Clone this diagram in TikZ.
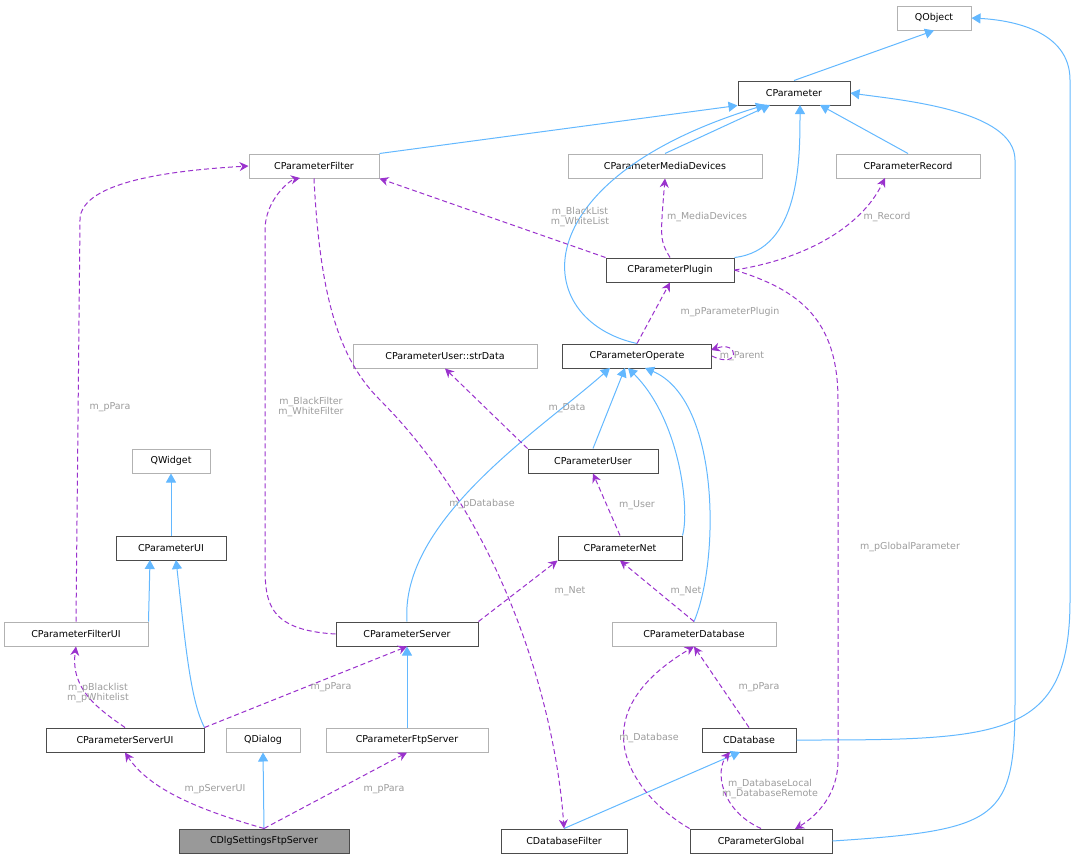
\documentclass[tikz,border=0pt]{standalone}
\usepackage{fontspec}
\setmainfont{DejaVu Sans}
\usetikzlibrary{arrows.meta}
\definecolor{inh}{HTML}{63B8FF}
\definecolor{use}{HTML}{9A32CD}
\definecolor{lbl}{HTML}{9C9C9C}
\begin{document}
\begin{tikzpicture}[x=1pt,y=-1pt,
    cls/.style={draw=black!70, fill=white, font=\fontsize{9.5}{11}\selectfont, minimum height=24pt, inner xsep=4pt, inner ysep=0pt, line width=1pt},
    ext/.style={cls, draw=black!30},
    inh/.style={draw=inh, line width=1pt, -{Triangle[length=9pt,width=10pt,fill=inh]}},
    use/.style={draw=use, line width=1pt, dash pattern=on 5pt off 3pt, -{Stealth[length=9pt,width=9pt,fill=use]}},
    lab/.style={text=lbl, font=\fontsize{9.5}{10}\selectfont, align=center, inner sep=0pt}]
      \useasboundingbox (0,0) rectangle (1074,860);

      % Classes
      \node[ext, minimum width=74pt] (qobj) at (934,18) {QObject};
      \node[cls, minimum width=112pt] (par) at (794,93) {CParameter};
      \node[ext, minimum width=130pt] (filt) at (314,166) {CParameterFilter};
      \node[ext, minimum width=194pt] (media) at (665,166) {CParameterMediaDevices};
      \node[ext, minimum width=144pt] (rec) at (908,166) {CParameterRecord};
      \node[cls, minimum width=128pt] (plug) at (670,270) {CParameterPlugin};
      \node[ext, minimum width=184pt] (strd) at (445,356) {CParameterUser::strData};
      \node[cls, minimum width=149pt] (oper) at (637,356) {CParameterOperate};
      \node[ext, minimum width=78pt] (qwid) at (171,461) {QWidget};
      \node[cls, minimum width=130pt] (user) at (593,461) {CParameterUser};
      \node[cls, minimum width=110pt] (ui) at (171,548) {CParameterUI};
      \node[cls, minimum width=124pt] (net) at (620,548) {CParameterNet};
      \node[ext, minimum width=144pt] (filtui) at (76,634) {CParameterFilterUI};
      \node[cls, minimum width=142pt] (serv) at (407,634) {CParameterServer};
      \node[ext, minimum width=164pt] (pdb) at (694,634) {CParameterDatabase};
      \node[cls, minimum width=158pt] (servui) at (125,740) {CParameterServerUI};
      \node[ext, minimum width=74pt] (qdlg) at (263,740) {QDialog};
      \node[ext, minimum width=162pt] (ftp) at (407,740) {CParameterFtpServer};
      \node[cls, minimum width=94pt] (db) at (749,740) {CDatabase};
      \node[cls, fill=black!40, minimum width=170pt] (dlg) at (264,841) {CDlgSettingsFtpServer};
      \node[cls, minimum width=126pt] (dbf) at (564,841) {CDatabaseFilter};
      \node[cls, minimum width=142pt] (glob) at (761,841) {CParameterGlobal};

      % Inheritance
      \draw[inh] (par.north) -- (qobj.south);
      \draw[inh] (db.east) .. controls (1000,740) and (1070,740) .. (1070,600) -- (1070,80) .. controls (1070,30) and (1010,20) .. (qobj.east);
      \draw[inh] (filt.north east) -- (par.south west);
      \draw[inh] (media.north) -- (770,105);
      \draw[inh] (rec.north) -- (820,105);
      \draw[inh] (plug.north east) .. controls (800,250) and (800,160) .. (800,105);
      \draw[inh] (oper.north) .. controls (530,320) and (520,180) .. (765,105);
      \draw[inh] (glob.east) .. controls (1000,830) and (1015,820) .. (1015,700) -- (1015,160) .. controls (1015,110) and (900,100) .. (par.east);
      \draw[inh] (user.north) -- (625,368);
      \draw[inh] (serv.north) .. controls (400,520) and (540,430) .. (610,368);
      \draw[inh] (net.north east) .. controls (690,510) and (680,420) .. (628,368);
      \draw[inh] (pdb.north) .. controls (720,560) and (720,400) .. (645,368);
      \draw[inh] (ui.north) -- (qwid.south);
      \draw[inh] (filtui.north east) -- (150,560);
      \draw[inh] (servui.north east) .. controls (190,700) and (185,640) .. (176,560);
      \draw[inh] (ftp.north) -- (serv.south);
      \draw[inh] (dlg.north) -- (qdlg.south);
      \draw[inh] (dbf.north) -- (740,752);

      % Usage
      \draw[use] (plug.north west) -- (filt.south east);
      \node[lab] at (580,217) {m\_BlackList\\m\_WhiteList};
      \draw[use] (plug.north) .. controls (660,240) .. (media.south);
      \node[lab] at (707,217) {m\_MediaDevices};
      \draw[use] (plug.east) .. controls (800,260) and (860,230) .. (885,178);
      \node[lab] at (887,217) {m\_Record};
      \draw[use] (oper.north) -- (plug.south);
      \node[lab] at (730,312) {m\_pParameterPlugin};
      \draw[use] (oper.east) .. controls (740,370) and (740,340) .. (711,350);
      \node[lab] at (742,356) {m\_Parent};
      \draw[use] (user.north west) -- (strd.south);
      \node[lab] at (567,408) {m\_Data};
      \draw[use] (net.north) -- (user.south);
      \node[lab] at (637,505) {m\_User};
      \draw[use] (serv.north east) -- (net.south west);
      \node[lab] at (570,591) {m\_Net};
      \draw[use] (pdb.north) -- (net.south);
      \node[lab] at (686,591) {m\_Net};
      \draw[use] (serv.west) .. controls (265,630) and (265,600) .. (265,560) -- (265,230) .. controls (265,200) and (290,180) .. (300,178);
      \node[lab] at (311,407) {m\_BlackFilter\\m\_WhiteFilter};
      \draw[use] (filtui.north) -- (80,220) .. controls (80,180) and (180,170) .. (filt.west);
      \node[lab] at (110,407) {m\_pPara};
      \draw[use] (filt.south) .. controls (320,300) and (340,360) .. (380,400) .. controls (500,520) and (555,700) .. (dbf.north);
      \node[lab] at (482,504) {m\_pDatabase};
      \draw[use] (plug.east) .. controls (800,290) and (838,320) .. (838,400) -- (838,760) .. controls (838,800) and (810,820) .. (795,829);
      \node[lab] at (910,547) {m\_pGlobalParameter};
      \draw[use] (servui.north) .. controls (100,710) and (70,690) .. (filtui.south);
      \node[lab] at (98,693) {m\_pBlacklist\\m\_pWhitelist};
      \draw[use] (servui.north east) -- (serv.south);
      \node[lab] at (331,687) {m\_pPara};
      \draw[use] (db.north) -- (pdb.south);
      \node[lab] at (759,687) {m\_pPara};
      \draw[use] (glob.north west) .. controls (640,800) and (570,720) .. (pdb.south);
      \node[lab] at (649,738) {m\_Database};
      \draw[use] (glob.north) .. controls (720,810) and (715,770) .. (730,752);
      \node[lab] at (770,789) {m\_DatabaseLocal\\m\_DatabaseRemote};
      \draw[use] (dlg.north) .. controls (200,810) and (150,790) .. (servui.south);
      \node[lab] at (215,789) {m\_pServerUI};
      \draw[use] (dlg.north) -- (ftp.south);
      \node[lab] at (384,789) {m\_pPara};
\end{tikzpicture}
\end{document}
